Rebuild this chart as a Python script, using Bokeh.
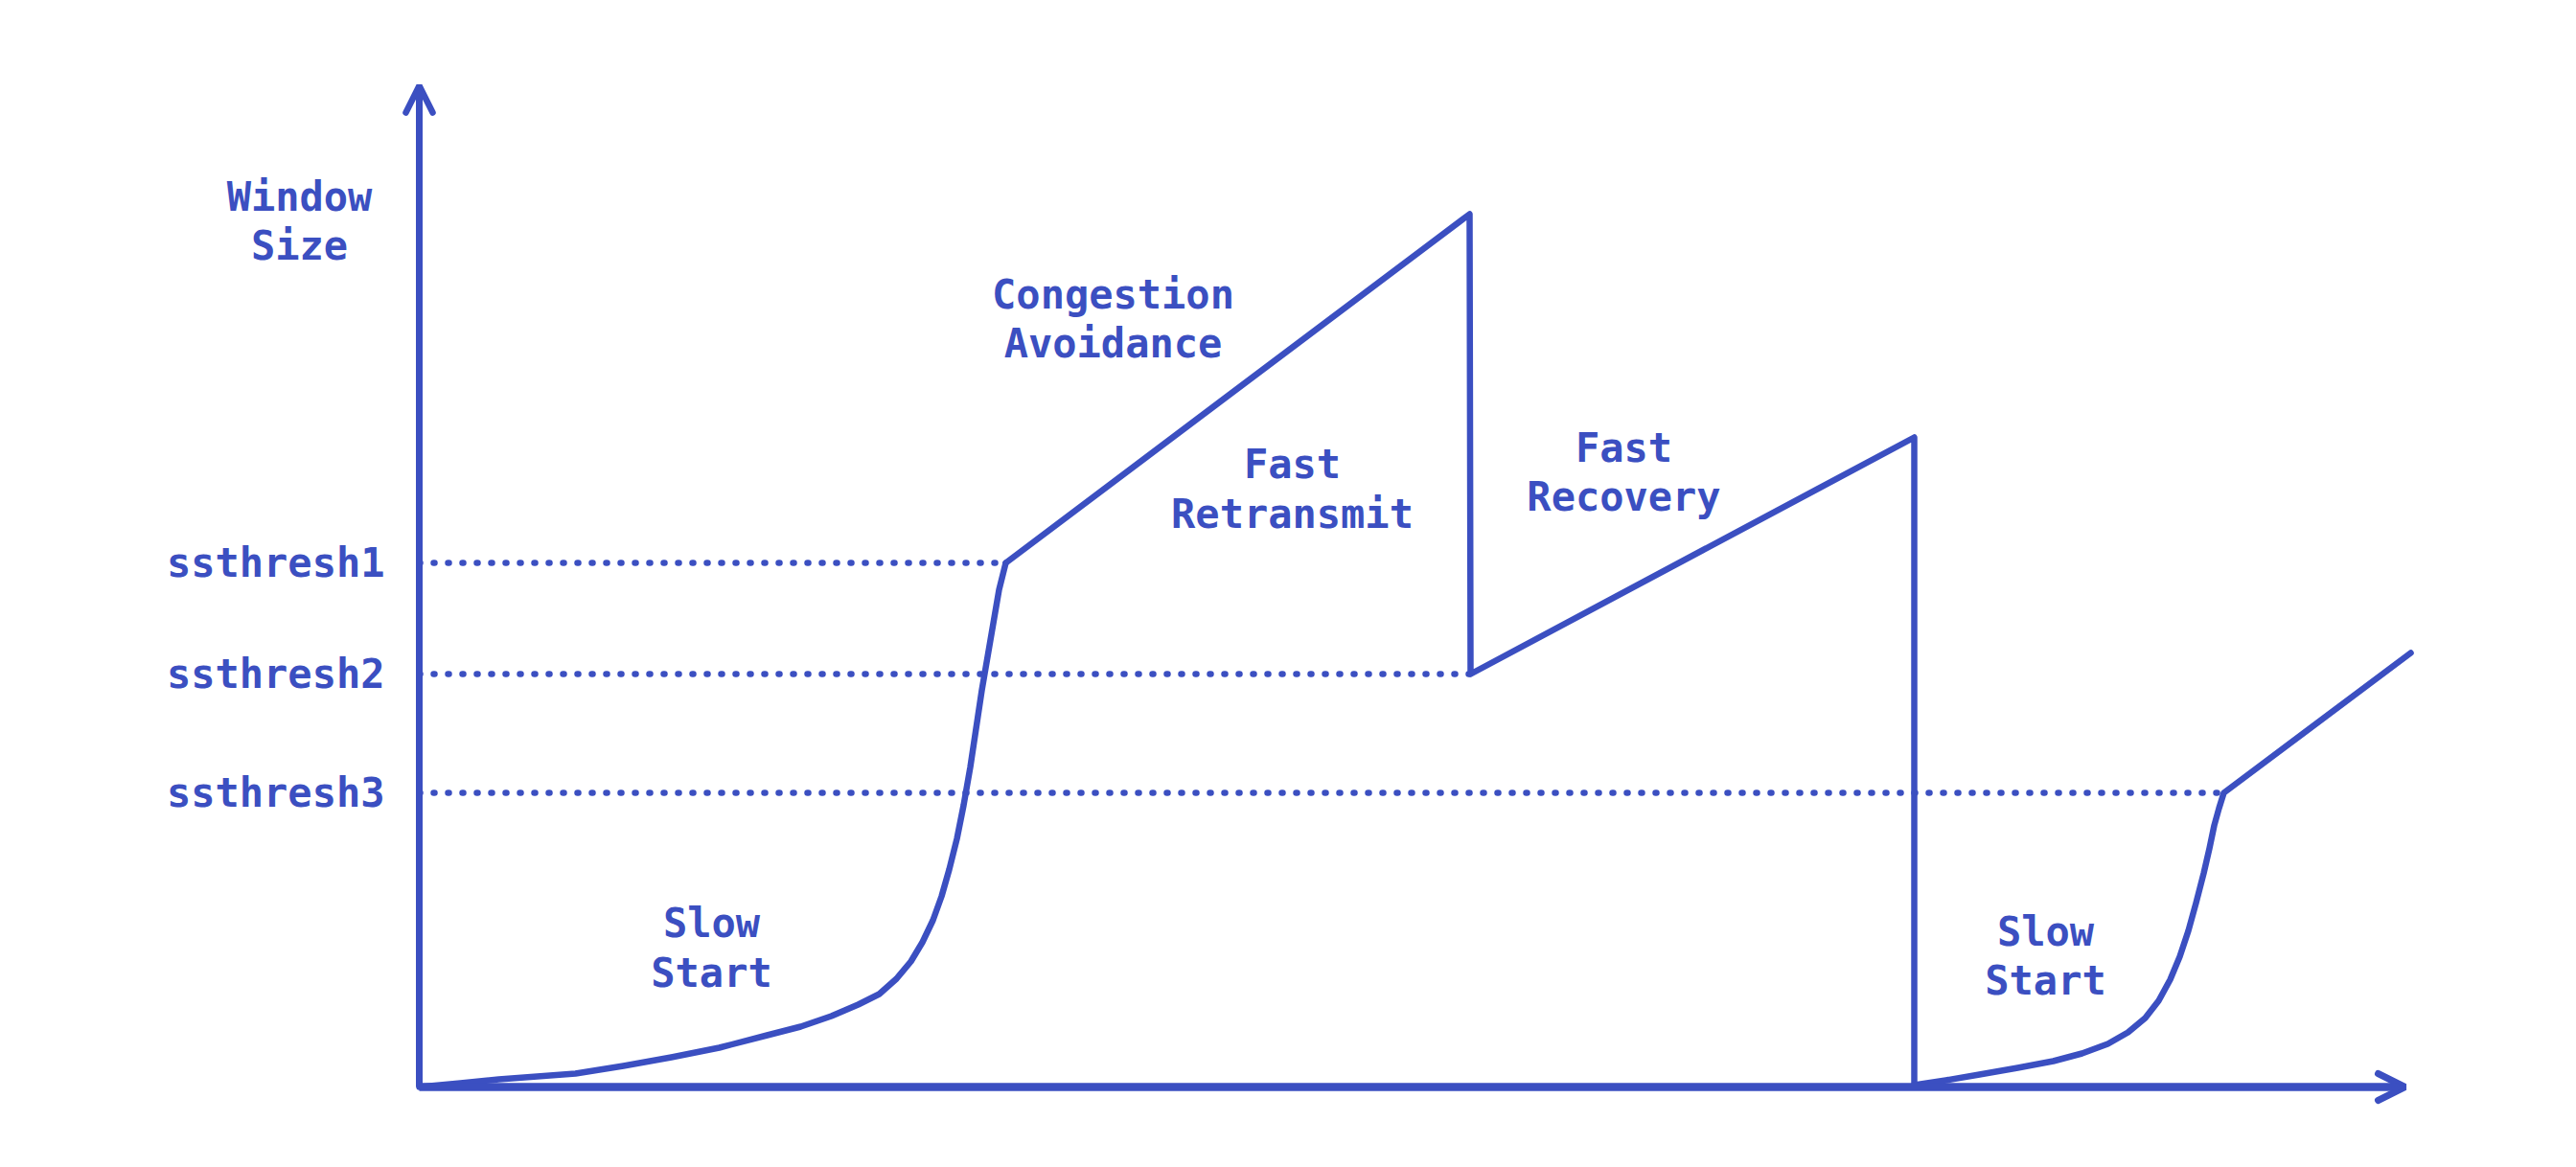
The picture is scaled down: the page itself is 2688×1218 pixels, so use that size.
from bokeh.plotting import figure
from bokeh.models import (Range1d, FixedTicker, Arrow, OpenHead, LinearAxis, ColumnDataSource)
from bokeh.core.properties import value
from bokeh.embed import file_html
from bokeh.resources import INLINE

# ---- data (time units on x, window size units on y) ----
ssthresh_names = ["ssthresh1", "ssthresh2", "ssthresh3"]
ssthresh_values = [54.7, 43.1, 30.7]
ssthresh_reach = [61.2, 109.7, 188.3]   # time where each threshold is reached

# slow start 1 (exponential growth) up to ssthresh1
ss1_t = [0.0, 4.3, 8.3, 12.3, 16.3, 21.3, 26.3, 31.3, 36.3, 39.8, 43.0, 45.8, 48.0, 49.8,
         51.3, 52.5, 53.6, 54.5, 55.3, 56.1, 56.8, 57.5, 58.1, 58.7, 59.3, 59.9, 60.5, 61.2]
ss1_w = [0.0, 0.4, 0.8, 1.1, 1.4, 2.2, 3.1, 4.1, 5.4, 6.3, 7.4, 8.6, 9.7, 11.3,
         13.1, 15.1, 17.4, 19.9, 22.7, 25.9, 29.4, 33.4, 37.4, 41.4, 44.9, 48.4, 51.9, 54.7]

# congestion avoidance -> fast retransmit -> fast recovery -> timeout
mid_t = [61.2, 109.6, 109.7, 156.0, 156.0]
mid_w = [54.7, 91.1, 43.1, 67.8, 0.2]

# slow start 2 up to ssthresh3, then congestion avoidance
ss2_t = [156.0, 159.3, 162.8, 166.8, 170.5, 173.5, 176.2, 178.3, 180.1, 181.5, 182.7, 183.7,
         184.6, 185.4, 186.2, 186.8, 187.3, 187.8, 188.3, 207.8]
ss2_w = [0.2, 0.7, 1.3, 2.0, 2.7, 3.5, 4.5, 5.7, 7.2, 9.0, 11.2, 13.6,
         16.3, 19.2, 22.3, 24.9, 27.3, 29.1, 30.7, 45.3]

axis_x_max = 207.2
axis_y_max = 104.5

phase_labels = ["Congestion\nAvoidance", "Fast\nRetransmit", "Fast\nRecovery", "Slow\nStart", "Slow\nStart", "Window\nSize"]
phase_t = [72.4, 91.1, 125.7, 30.5, 169.7, -12.5]
phase_w = [80.15, 62.4, 64.15, 14.5, 13.65, 90.35]

# ---- styling ----
BLUE = "#3b4fc1"
FONT = "DejaVu Sans Mono"
FS = "42px"

p = figure(width=2688, height=1218, output_backend="svg", toolbar_location=None,
           x_range=Range1d(-43.7, 225.1), y_range=Range1d(-8.4, 113.4),
           x_axis_type=None, y_axis_type=None, min_border=0)
p.grid.visible = False
p.outline_line_color = None
p.background_fill_color = "white"
p.border_fill_color = "white"

ax = LinearAxis(fixed_location=0)
ax.ticker = FixedTicker(ticks=ssthresh_values)
ax.major_label_overrides = {v: n for v, n in zip(ssthresh_values, ssthresh_names)}
ax.axis_line_color = None
ax.major_tick_line_color = None
ax.minor_tick_line_color = None
ax.major_tick_out = 0
ax.major_tick_in = 0
ax.major_label_standoff = 36
ax.major_label_text_font = FONT
ax.major_label_text_font_size = FS
ax.major_label_text_font_style = "bold"
ax.major_label_text_color = BLUE
p.add_layout(ax, "left")

# threshold dotted lines
for v, r in zip(ssthresh_values, ssthresh_reach):
    p.line([0, r], [v, v], line_color=BLUE, line_width=6.5, line_dash="1 14", line_cap="round")

# axes as arrows
p.add_layout(Arrow(x_start=0, y_start=0, x_end=0, y_end=axis_y_max, line_color=BLUE, line_width=7,
                   end=OpenHead(size=28, line_color=BLUE, line_width=6.5, line_cap="round")))
p.add_layout(Arrow(x_start=0, y_start=0, x_end=axis_x_max, y_end=0, line_color=BLUE, line_width=8.5,
                   end=OpenHead(size=28, line_color=BLUE, line_width=7, line_cap="round")))

# congestion window curve
for xs, ys in [(ss1_t, ss1_w), (mid_t, mid_w), (ss2_t, ss2_w)]:
    p.line(xs, ys, line_color=BLUE, line_width=6.5, line_join="round", line_cap="round")

src = ColumnDataSource(dict(x=phase_t, y=phase_w, text=phase_labels))
p.text(x="x", y="y", text="text", source=src, text_font=value(FONT), text_font_size=FS,
       text_font_style="bold", text_color=BLUE, text_align="center", text_baseline="middle",
       text_line_height=1.06)

open("out.html", "w").write(file_html(p, INLINE))
